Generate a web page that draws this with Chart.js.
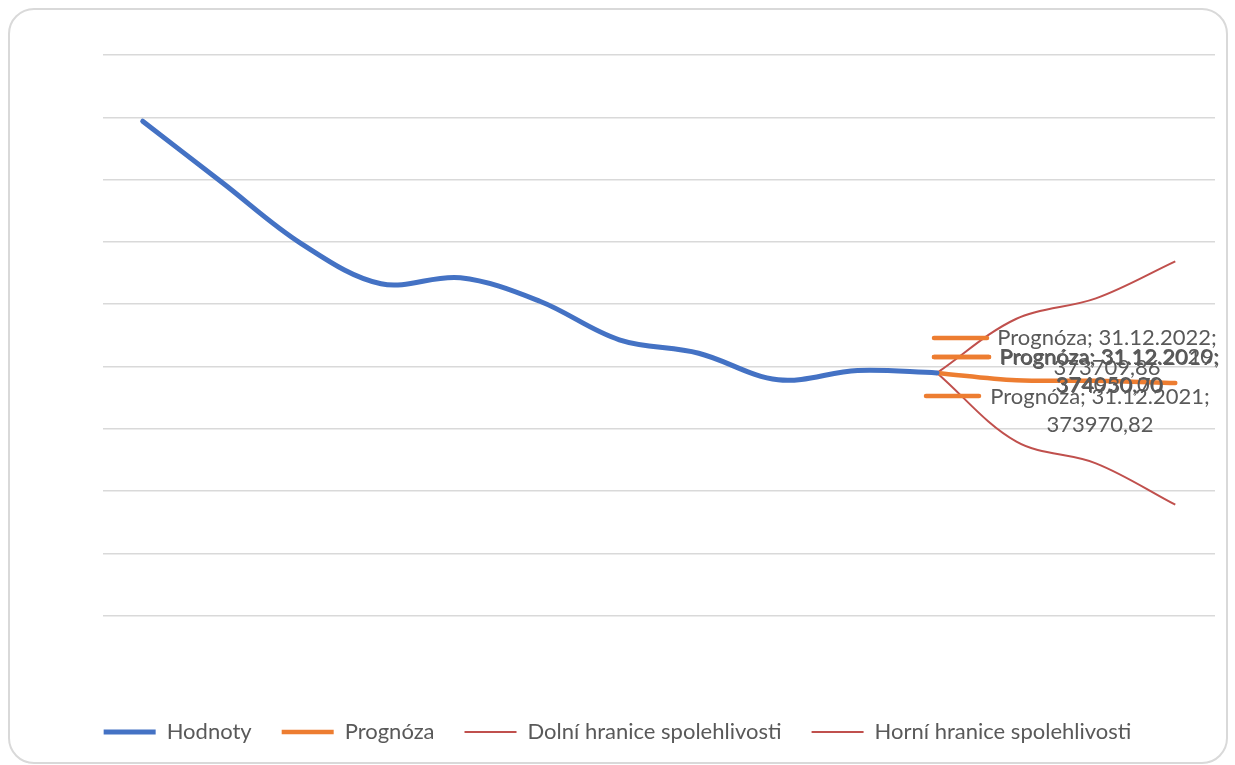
<!DOCTYPE html>
<html lang="cs">
<head>
<meta charset="utf-8">
<title>Prognóza</title>
<script src="https://cdn.jsdelivr.net/npm/chart.js@4.4.1/dist/chart.umd.min.js"></script>
<style>
    html, body { margin: 0; padding: 0; background: #ffffff; overflow: hidden; }
    body { width: 1235px; height: 765px; position: relative; }
    .ramecek {
        position: absolute; left: 8px; top: 8px; width: 1220px; height: 756px;
        box-sizing: border-box; border: 2px solid #d9d9d9; border-radius: 26px;
    }
    #graf { position: absolute; left: 0; top: 0; }
</style>
</head>
<body>
<div class="ramecek"></div>
<canvas id="graf" width="1235" height="765"></canvas>
<script>
// Data
const kategorie = ['31.12.2009', '31.12.2010', '31.12.2011', '31.12.2012', '31.12.2013', '31.12.2014', '31.12.2015',
    '31.12.2016', '31.12.2017', '31.12.2018', '31.12.2019', '31.12.2020', '31.12.2021', '31.12.2022'];
const hodnoty = [405230, 397850, 390470, 385660, 386380, 383560, 378920, 377300, 374100, 375220, 374930.70, null, null, null];
const prognoza = [null, null, null, null, null, null, null, null, null, null, 374930.70, 374050.00, 373970.82, 373709.86];
const dolniHranice = [null, null, null, null, null, null, null, null, null, null, 374930.70, 366650, 364040, 359060];
const horniHranice = [null, null, null, null, null, null, null, null, null, null, 374930.70, 381450, 383900, 388360];

// osa Y (popisky skryte)
const osaYMin = 338200;
const osaYMax = 413200;
const osaYKrok = 7500;

const TEXT_COLOR = '#595959';
const FONT = 'Lato, "Open Sans", sans-serif';

function formatHodnota(v) {
    return v.toFixed(2).replace('.', ',');
}

// Popisky prognozy (posun vuci poslednimu skutecnemu bodu)
const popiskyPlugin = {
    id: 'popiskyPrognozy',
    afterDatasetsDraw(chart) {
        const ctx = chart.ctx;
        const x = chart.scales.x;
        const y = chart.scales.y;
        const jx = x.getPixelForValue(10);
        const jy = y.getPixelForValue(prognoza[10]);

        const rozlozeni = [
            { i: 10, k1: -3, k2: 52, ky: -16, tx: 173, y1: -14.5, y2: 13 },
            { i: 11, k1: -3, k2: 52, ky: -16, tx: 172, y1: -15.5, y2: 12.5 },
            { i: 12, k1: -11, k2: 42, ky: 23, tx: 163, y1: 24, y2: 52.5 },
            { i: 13, k1: -3, k2: 50, ky: -35, tx: 170, y1: -35, y2: -4.5 }
        ];

        ctx.save();
        rozlozeni.forEach(p => {
            // legendovy klic
            ctx.strokeStyle = '#ed7d31';
            ctx.lineWidth = 4.5;
            ctx.lineCap = 'round';
            ctx.beginPath();
            ctx.moveTo(jx + p.k1, jy + p.ky);
            ctx.lineTo(jx + p.k2, jy + p.ky);
            ctx.stroke();

            ctx.fillStyle = TEXT_COLOR;
            ctx.font = '22px ' + FONT;
            ctx.textAlign = 'center';
            ctx.textBaseline = 'middle';
            ctx.fillText('Prognóza; ' + kategorie[p.i] + ';', jx + p.tx, jy + p.y1);
            ctx.fillText(formatHodnota(prognoza[p.i]), jx + p.tx, jy + p.y2);
        });
        ctx.restore();
    }
};

const ctx = document.getElementById('graf').getContext('2d');
new Chart(ctx, {
    type: 'line',
    data: {
        labels: kategorie,
        datasets: [
            {
                label: 'Hodnoty',
                data: hodnoty,
                borderColor: '#4472c4',
                backgroundColor: '#4472c4',
                borderWidth: 5,
                borderCapStyle: 'round',
                tension: 0.35,
                pointRadius: 0
            },
            {
                label: 'Prognóza',
                data: prognoza,
                borderColor: '#ed7d31',
                backgroundColor: '#ed7d31',
                borderWidth: 4.5,
                borderCapStyle: 'round',
                tension: 0.35,
                pointRadius: 0
            },
            {
                label: 'Dolní hranice spolehlivosti',
                data: dolniHranice,
                borderColor: '#c0504d',
                backgroundColor: '#c0504d',
                borderWidth: 2,
                tension: 0.35,
                pointRadius: 0
            },
            {
                label: 'Horní hranice spolehlivosti',
                data: horniHranice,
                borderColor: '#c0504d',
                backgroundColor: '#c0504d',
                borderWidth: 2,
                tension: 0.35,
                pointRadius: 0
            }
        ]
    },
    options: {
        responsive: false,
        animation: false,
        layout: { padding: { top: 55, left: 0, right: 0, bottom: 12 } },
        scales: {
            x: {
                type: 'category',
                offset: true,
                grid: { display: false },
                border: { display: false },
                ticks: { display: false },
                afterFit(scale) { scale.height = 13; }
            },
            y: {
                min: osaYMin,
                max: osaYMax,
                ticks: { display: false, stepSize: osaYKrok },
                border: { display: false },
                grid: {
                    drawTicks: false,
                    lineWidth: 1.5,
                    color: c => (c.tick && c.tick.value === osaYMin) ? 'rgba(0,0,0,0)' : '#d9d9d9'
                },
                afterFit(scale) { scale.width = 103; }
            },
            y2: {
                position: 'right',
                display: true,
                grid: { display: false },
                border: { display: false },
                ticks: { display: false },
                afterFit(scale) { scale.width = 20; }
            }
        },
        plugins: {
            legend: {
                position: 'bottom',
                labels: {
                    usePointStyle: true,
                    pointStyle: 'line',
                    pointStyleWidth: 52,
                    padding: 30,
                    color: TEXT_COLOR,
                    font: { family: FONT, size: 22 }
                }
            },
            tooltip: { enabled: false }
        }
    },
    plugins: [popiskyPlugin]
});
</script>
</body>
</html>
